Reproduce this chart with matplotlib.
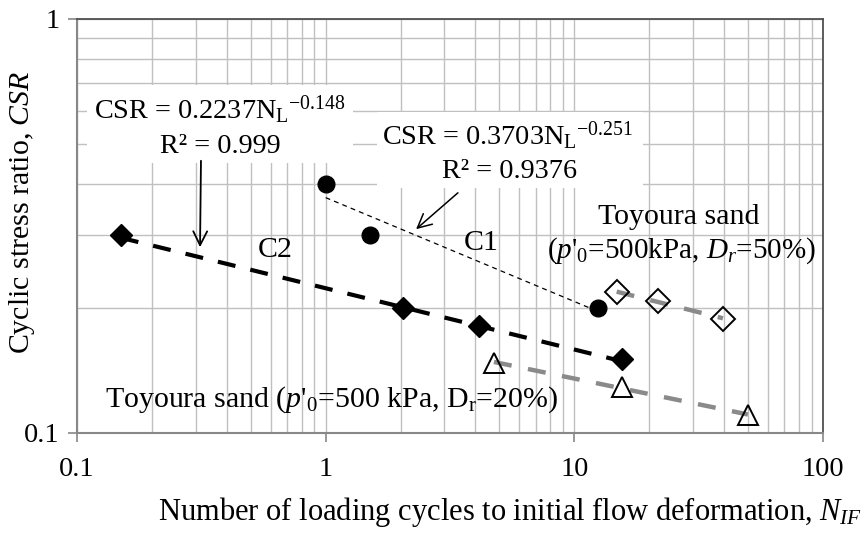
import numpy as np
import matplotlib
matplotlib.use("Agg")
import matplotlib.pyplot as plt
from matplotlib.patches import Rectangle
from matplotlib.ticker import NullFormatter

plt.rcParams['font.family'] = ['Liberation Serif', 'DejaVu Serif']
plt.rcParams['mathtext.fontset'] = 'custom'
plt.rcParams['mathtext.rm'] = 'Liberation Serif'
plt.rcParams['mathtext.it'] = 'Liberation Serif:italic'
plt.rcParams['lines.scale_dashes'] = False

# ---- data ----
c2_n = [0.15, 2.05, 4.15, 15.6]          # black diamonds
c2_csr = [0.30, 0.20, 0.181, 0.151]
c1_n = [1.0, 1.51, 12.4]                 # black circles
c1_csr = [0.40, 0.30, 0.20]
dr50_n = [14.8, 21.7, 39.6]              # open diamonds
dr50_csr = [0.219, 0.208, 0.189]
dr20_n = [4.75, 15.5, 49.9]              # open triangles
dr20_csr = [0.148, 0.129, 0.1105]
c2_fit = (0.2237, -0.148)
c1_fit = (0.3703, -0.251)
xticks = [0.1, 1, 10, 100]
xticklabels = ['0.1', '1', '10', '100']
yticks = [0.1, 1]
yticklabels = ['0.1', '1']

W, H = 867, 536
fig = plt.figure(figsize=(W / 100, H / 100), dpi=100)
L, R, T, B = 77, 823, 19, 433
ax = fig.add_axes([L / W, 1 - B / H, (R - L) / W, (B - T) / H])
ax.set_xscale('log')
ax.set_yscale('log')
ax.set_xlim(0.1, 100)
ax.set_ylim(0.1, 1)

def fp(px, py):
    return (px / W, 1 - py / H)

ax.set_axisbelow(True)
ax.grid(True, which='both', color='#c0c0c0', lw=1.0)
ax.set_xticks(xticks)
ax.set_xticklabels(xticklabels)
ax.set_yticks(yticks)
ax.set_yticklabels(yticklabels)
ax.minorticks_on()
ax.xaxis.set_minor_formatter(NullFormatter())
ax.yaxis.set_minor_formatter(NullFormatter())
ax.tick_params(which='minor', length=0)
ax.tick_params(which='major', direction='out', length=6.5, width=1.2, color='#888888',
               labelsize=20.5, pad=11)
ax.tick_params(axis='y', pad=6)
for s in ['left', 'bottom']:
    ax.spines[s].set_color('#888888')
    ax.spines[s].set_linewidth(1.5)
for s in ['top', 'right']:
    ax.spines[s].set_color('#505050')
    ax.spines[s].set_linewidth(1.3)

# white boxes behind equations
for (x0, y0, x1, y1) in [(87, 85, 353, 163), (377, 112, 643, 188)]:
    ax.add_patch(Rectangle(fp(x0, y1), (x1 - x0) / W, (y1 - y0) / H,
                           transform=fig.transFigure, facecolor='white',
                           edgecolor='none', zorder=1, clip_on=False))

# trend lines
xs = np.geomspace(min(c2_n), max(c2_n), 50)
ax.plot(xs, c2_fit[0] * xs ** c2_fit[1], color='black', lw=3, dashes=(13, 11), zorder=2)
xs = np.geomspace(min(c1_n), max(c1_n), 50)
ax.plot(xs, c1_fit[0] * xs ** c1_fit[1], color='black', lw=0.9, dashes=(3.5, 3), zorder=2)
for nn, cc in [(dr50_n, dr50_csr), (dr20_n, dr20_csr)]:
    p = np.polyfit(np.log10(nn), np.log10(cc), 1)
    xs = np.geomspace(min(nn), max(nn), 50)
    ax.plot(xs, 10 ** np.polyval(p, np.log10(xs)), color='#8a8a8a', lw=3.2,
            dashes=(13, 12), zorder=2)

# markers
ax.plot(c2_n, c2_csr, 'D', color='black', ms=11.5, ls='none', zorder=3)
ax.plot(c1_n, c1_csr, 'o', color='black', ms=12, ls='none', zorder=3)
ax.plot(dr50_n, dr50_csr, 'D', mfc='none', mec='black', mew=1.4, ms=12.5, ls='none', zorder=3)
ax.plot(dr20_n, dr20_csr, '^', mfc='none', mec='black', mew=1.4, ms=15, ls='none', zorder=3)

# texts
fs = 20.3
fig.text(*fp(220, 119), 'CSR = 0.2237N$_\\mathrm{L}$$^\\mathrm{-0.148}$', ha='center',
         va='baseline', fontsize=fs)
fig.text(*fp(220, 153), 'R² = 0.999', ha='center', va='baseline', fontsize=fs)
fig.text(*fp(508, 145), 'CSR = 0.3703N$_\\mathrm{L}$$^\\mathrm{-0.251}$', ha='center',
         va='baseline', fontsize=fs)
fig.text(*fp(510, 178), 'R² = 0.9376', ha='center', va='baseline', fontsize=fs)
ax.annotate('', xy=fp(200, 250), xytext=fp(201, 158), xycoords='figure fraction',
            textcoords='figure fraction',
            arrowprops=dict(arrowstyle='->', color='black', lw=1.3, mutation_scale=25))
ax.annotate('', xy=fp(414, 231), xytext=fp(460, 191), xycoords='figure fraction',
            textcoords='figure fraction',
            arrowprops=dict(arrowstyle='->', color='black', lw=1.1, mutation_scale=25))
fs2 = 21.5
fig.text(*fp(481, 250), 'C1', ha='center', va='baseline', fontsize=fs2)
fig.text(*fp(275, 257), 'C2', ha='center', va='baseline', fontsize=fs2)
fig.text(*fp(679, 224), 'Toyoura sand', ha='center', va='baseline', fontsize=fs2)
fig.text(*fp(681, 258), "($p$'$_\\mathrm{0}$=500kPa, $D_r$=50%)", ha='center',
         va='baseline', fontsize=21)
fig.text(*fp(105, 407), "Toyoura sand ($p$'$_0$=500 kPa, D$_\\mathrm{r}$=20%)", ha='left',
         va='baseline', fontsize=fs2)

fig.text(*fp(22, 212), 'Cyclic stress ratio, $CSR$', rotation=90, ha='center',
         va='center', fontsize=21.5)
fig.text(*fp(862, 520), 'Number of loading cycles to initial flow deformation, $N_{IF}$',
         ha='right', va='baseline', fontsize=22)

fig.savefig('out.png', dpi=100)
